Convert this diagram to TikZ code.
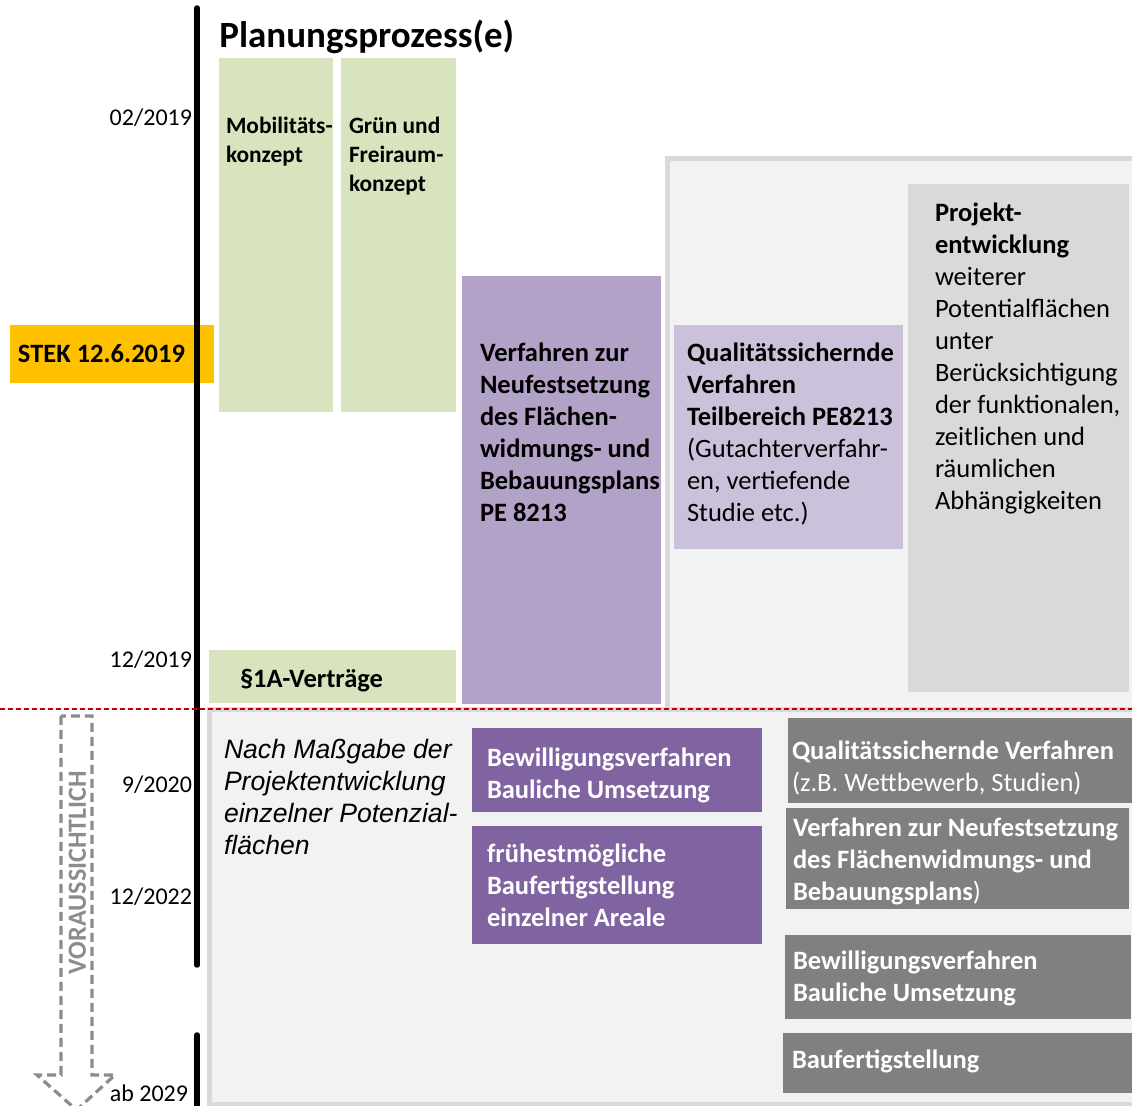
\documentclass[tikz,border=0pt]{standalone}
\usepackage{fontspec}
\setmainfont{Carlito}
\newfontfamily\arialf{Liberation Sans}
\usetikzlibrary{fit}
\definecolor{cgreen}{HTML}{D7E4BD}
\definecolor{corange}{HTML}{FFC000}
\definecolor{cpurple}{HTML}{B3A2C7}
\definecolor{clav}{HTML}{CCC1DA}
\definecolor{cdpurple}{HTML}{8064A2}
\definecolor{clgrey}{HTML}{D9D9D9}
\definecolor{cdgrey}{HTML}{808080}
\definecolor{cbg}{HTML}{F2F2F2}
\definecolor{cred}{HTML}{C00000}
\definecolor{carrow}{HTML}{8C8C8C}
\begin{document}
\begin{tikzpicture}[x=0.5pt,y=-0.5pt,
  box/.style={inner sep=0pt, outer sep=0pt, draw=none, fill=#1},
  region/.style={draw=clgrey, line width=2.5pt, fill=cbg},
  txt/.style={inner sep=0pt, outer sep=0pt, align=left, anchor=north west, font=\fontsize{13.25}{16}\selectfont},
  btxt/.style={txt, font=\fontsize{13.25}{16}\selectfont\bfseries},
  wtxt/.style={btxt, text=white},
  greentxt/.style={txt, font=\fontsize{11.7}{14.5}\selectfont\bfseries},
  single/.style={inner sep=0pt, outer sep=0pt, anchor=base west, font=\fontsize{13.25}{16}\selectfont\bfseries},
  datelbl/.style={inner sep=0pt, outer sep=0pt, anchor=base east, font=\fontsize{12}{14}\selectfont},
  timeline/.style={line width=2.75pt, line cap=round},
  ]
\useasboundingbox (0,0) rectangle (1132,1106);

% background regions
\draw[region] (667.5,158.5) rectangle (1145,712);
\draw[region] (209.5,709.5) rectangle (1145,1104.5);

% title
\node[inner sep=0pt, anchor=base west, font=\fontsize{18.5}{22}\selectfont\bfseries] (title) at (219,48) {Planungsprozess(e)};

% green boxes
\node[box=cgreen, fit={(219,58)(333,412)}] (mob) {};
\node[box=cgreen, fit={(341,58)(456,412)}] (gruen) {};
\node[box=cgreen, fit={(209,650)(456,703)}] (vertr) {};
\node[greentxt] (mobT) at (226,113.4) {\strut Mobilitäts-\\konzept};
\node[greentxt] (gruenT) at (349,113.4) {\strut Grün und\\Freiraum-\\konzept};
\node[single] (vertrT) at (240,688) {§1A-Verträge};

% STEK
\node[box=corange, fit={(10,325)(214,383)}] (stek) {};
\node[single] (stekT) at (18,363) {STEK 12.6.2019};

% purple boxes top
\node[box=cpurple, fit={(462,276)(661,704)}] (verf) {};
\node[btxt] (verfT) at (480,339.6) {\strut Verfahren zur\\Neufestsetzung\\des Flächen-\\widmungs- und\\Bebauungsplans\\PE 8213};
\node[box=clav, fit={(674,325)(903,549)}] (qual) {};
\node[txt] (qualT) at (687,339.6) {\strut\textbf{Qualitätssichernde}\\\textbf{Verfahren}\\\textbf{Teilbereich PE8213}\\(Gutachterverfahr-\\en, vertiefende\\Studie etc.)};

% Projektentwicklung
\node[box=clgrey, fit={(908,184)(1129,692)}] (proj) {};
\node[txt] (projT) at (935,199.6) {\strut\textbf{Projekt-}\\\textbf{entwicklung}\\weiterer\\Potentialflächen\\unter\\Berücksichtigung\\der funktionalen,\\zeitlichen und\\räumlichen\\Abhängigkeiten};

% lower part
\node[txt, font=\fontsize{13.3}{16}\selectfont\arialf\itshape] (nach) at (224,736.6) {\strut Nach Maßgabe der\\Projektentwicklung\\einzelner Potenzial-\\flächen};

\node[box=cdpurple, fit={(472,728)(762,812)}] (bew1) {};
\node[wtxt] (bew1T) at (487,744.6) {\strut Bewilligungsverfahren\\Bauliche Umsetzung};
\node[box=cdpurple, fit={(472,826)(762,944)}] (frueh) {};
\node[wtxt] (fruehT) at (487,840.6) {\strut frühestmögliche\\Baufertigstellung\\einzelner Areale};

\node[box=cdgrey, fit={(788,718)(1132,803)}] (dg1) {};
\node[txt, text=white] (dg1T) at (792,737.6) {\strut\textbf{Qualitätssichernde Verfahren}\\(z.B. Wettbewerb, Studien)};
\node[box=cdgrey, fit={(786,808)(1129,909)}] (dg2) {};
\node[wtxt] (dg2T) at (793,814.6) {\strut Verfahren zur Neufestsetzung\\des Flächenwidmungs- und\\Bebauungsplans\textmd{)}};
\node[box=cdgrey, fit={(785,935)(1131,1019)}] (dg3) {};
\node[wtxt] (dg3T) at (793,947.6) {\strut Bewilligungsverfahren\\Bauliche Umsetzung};
\node[box=cdgrey, fit={(783,1033)(1132,1093)}] (dg4) {};
\node[single, text=white] (dg4T) at (792,1069) {Baufertigstellung};

% dates
\node[datelbl] (d1) at (192,126) {02/2019};
\node[datelbl] (d2) at (192,667.7) {12/2019};
\node[datelbl] (d3) at (192,792.7) {9/2020};
\node[datelbl] (d4) at (192,905) {12/2022};
\node[datelbl] (d5) at (188,1102) {ab 2029};

% timeline
\coordinate (t1) at (197,8);
\coordinate (t2) at (197,965);
\coordinate (t3) at (197,1035);
\coordinate (t4) at (197,1115);
\draw[timeline] (t1) -- (t2);
\draw[timeline] (t3) -- (t4);

% red dashed separator
\coordinate (r1) at (0,709);
\coordinate (r2) at (1132,709);
\draw[cred, line width=1pt, dash pattern=on 2.5pt off 1.5pt] (r1) -- (r2);

% dashed arrow
\draw[carrow, line width=1.6pt, dash pattern=on 4.5pt off 2.5pt, line join=miter]
  (61,716) -- (61,1075) -- (37,1075) -- (76.5,1110) -- (115,1075) -- (92,1075) -- (92,716) -- cycle;
\node[rotate=90, inner sep=0pt, text=carrow, font=\fontsize{13.1}{15}\selectfont\bfseries] (vor) at (77.5,872.5) {VORAUSSICHTLICH};
\end{tikzpicture}
\end{document}
